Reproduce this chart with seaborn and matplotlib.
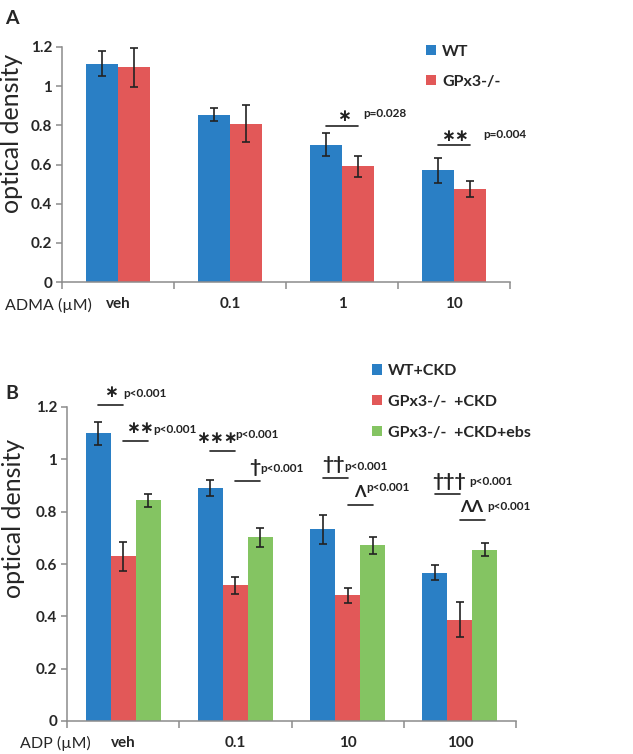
import numpy as np
import pandas as pd
import matplotlib
matplotlib.use("Agg")
import matplotlib.pyplot as plt
import seaborn as sns

# Panel A data (ADMA)
doses_a = ["veh", "0.1", "1", "10"]
groups_a = ["WT", "GPx3-/-"]
wt_a = [1.115, 0.853, 0.700, 0.570]
wt_a_err = [0.063, 0.033, 0.059, 0.064]
ko_a = [1.096, 0.809, 0.591, 0.475]
ko_a_err = [0.099, 0.095, 0.054, 0.042]

# Panel B data (ADP)
doses_b = ["veh", "0.1", "10", "100"]
groups_b = ["WT+CKD", "GPx3-/-  +CKD", "GPx3-/-  +CKD+ebs"]
wt_b = [1.099, 0.890, 0.732, 0.567]
wt_b_err = [0.043, 0.032, 0.054, 0.029]
ko_b = [0.629, 0.518, 0.480, 0.387]
ko_b_err = [0.055, 0.031, 0.029, 0.067]
ebs_b = [0.843, 0.702, 0.671, 0.655]
ebs_b_err = [0.025, 0.037, 0.034, 0.024]

colors = ["#2A7FC5", "#E25858", "#84C462"]
spine_grey = "#8C8C8C"

# significance marks: (dose, bar from, bar to, line y, symbol, symbol x, p text, p x, p y)
sig_a = [
    (2, 0, 1, 0.799, "\u2217", 2.02, "p=0.028", 2.19, 0.862),
    (3, 0, 1, 0.698, "\u2217\u2217", 3.01, "p=0.004", 3.26, 0.753),
]
sig_b = [
    (0, 0, 1, 1.206, "\u2217", -0.107, "p<0.001", 0.0, 1.251),
    (0, 1, 2, 1.070, "\u2217\u2217", 0.152, "p<0.001", 0.268, 1.115),
    (1, 0, 1, 1.033, "\u2217\u2217\u2217", 0.839, "p<0.001", 1.0, 1.096),
    (1, 1, 2, 0.917, "\u2020", 1.17, "p<0.001", 1.223, 0.964),
    (2, 0, 1, 0.929, "\u2020\u2020", 1.875, "p<0.001", 1.973, 0.973),
    (2, 1, 2, 0.824, "\u039b", 2.107, "p<0.001", 2.17, 0.892),
    (3, 0, 1, 0.866, "\u2020\u2020\u2020", 2.902, "p<0.001", 3.08, 0.917),
    (3, 1, 2, 0.767, "\u039b\u039b", 3.107, "p<0.001", 3.241, 0.820),
]
sym_size = {"\u2217": 12, "\u2020": 14, "\u039b": 12}

sns.set_style("ticks")
plt.rcParams["font.family"] = ["Lato", "DejaVu Sans"]


def bar_x(i, h, n, width):
    return i + (h - (n - 1) / 2) * width / n


def draw_panel(ax, doses, groups, means, errs, width, sigs):
    df = pd.DataFrame({
        "dose": np.repeat([doses], len(groups), axis=0).ravel(),
        "group": np.repeat(groups, len(doses)),
        "od": np.concatenate(means),
    })
    sns.barplot(data=df, x="dose", y="od", hue="group", order=doses,
                hue_order=groups, palette=colors[:len(groups)], width=width,
                saturation=1, errorbar=None, linewidth=0, ax=ax)
    n = len(groups)
    for h in range(n):
        xs = [bar_x(i, h, n, width) for i in range(len(doses))]
        ax.errorbar(xs, means[h], yerr=errs[h], fmt="none", ecolor="#222222",
                    elinewidth=1.2, capsize=3, capthick=1.2, zorder=5)
    for d, b1, b2, ly, sym, sx, ptxt, px, py in sigs:
        x1 = bar_x(d, b1, n, width)
        x2 = bar_x(d, b2, n, width)
        ax.plot([x1, x2], [ly, ly], color="#222222", lw=1.2, clip_on=False)
        ax.text(sx, ly + 0.05, sym, ha="center", va="center",
                fontsize=sym_size[sym[0]], fontweight="bold",
                color="#222222", clip_on=False)
        ax.text(px, py, ptxt, ha="left", va="center", fontsize=8.5,
                fontweight="bold", color="#222222", clip_on=False)

    ax.set_xlim(-0.5, len(doses) - 0.5)
    ax.set_ylim(0, 1.2)
    ax.set_yticks(np.arange(0, 1.21, 0.2))
    ax.set_yticklabels(["0", "0.2", "0.4", "0.6", "0.8", "1", "1.2"],
                       fontsize=11, fontweight="bold")
    ax.set_xticks(range(len(doses)))
    ax.set_xticklabels(doses, fontsize=11, fontweight="bold")
    ax.set_xticks(np.arange(-0.5, len(doses)), minor=True)
    ax.tick_params(axis="x", which="major", length=0, pad=11)
    ax.tick_params(axis="x", which="minor", length=5, width=1.1,
                   color=spine_grey, direction="out")
    ax.tick_params(axis="y", length=4, width=1.1, color=spine_grey, pad=3)
    ax.set_xlabel("")
    ax.set_ylabel("")
    sns.despine(ax=ax)
    for s in ["left", "bottom"]:
        ax.spines[s].set_color(spine_grey)
        ax.spines[s].set_linewidth(1.1)


fig = plt.figure(figsize=(6.33, 7.54), dpi=100)
ax_a = fig.add_axes([62 / 633, 1 - 282 / 754, 448 / 633, 235 / 754])
ax_b = fig.add_axes([67 / 633, 1 - 721 / 754, 449 / 633, 314 / 754])

draw_panel(ax_a, doses_a, groups_a, [wt_a, ko_a], [wt_a_err, ko_a_err], 0.57, sig_a)
draw_panel(ax_b, doses_b, groups_b, [wt_b, ko_b, ebs_b],
           [wt_b_err, ko_b_err, ebs_b_err], 0.67, sig_b)

legend_kw = dict(frameon=False, title=None, borderpad=0, borderaxespad=0,
                 handlelength=0.65, handleheight=0.65, handletextpad=0.35,
                 prop={"size": 11.5, "weight": "bold"})
sns.move_legend(ax_a, "upper left", bbox_to_anchor=(0.8125, 1.01),
                labelspacing=1.0, **legend_kw)
sns.move_legend(ax_b, "upper left", bbox_to_anchor=(0.679, 1.137),
                labelspacing=1.05, **legend_kw)

fig.text(12 / 633, 1 - 10 / 754, "A", fontsize=14, fontweight="bold",
         ha="center", va="top")
fig.text(12 / 633, 1 - 393 / 754, "B", fontsize=14, fontweight="bold",
         ha="center", va="center")
fig.text(12 / 633, 1 - 133 / 754, "optical density", rotation=90,
         fontsize=18, ha="center", va="center")
fig.text(14 / 633, 1 - 518 / 754, "optical density", rotation=90,
         fontsize=18, ha="center", va="center")
fig.text(5 / 633, 1 - 305 / 754, "ADMA (\u00b5M)", fontsize=11.5,
         ha="left", va="center")
fig.text(20 / 633, 1 - 743 / 754, "ADP (\u00b5M)", fontsize=11.5,
         ha="left", va="center")

fig.savefig("out.png", dpi=100)
